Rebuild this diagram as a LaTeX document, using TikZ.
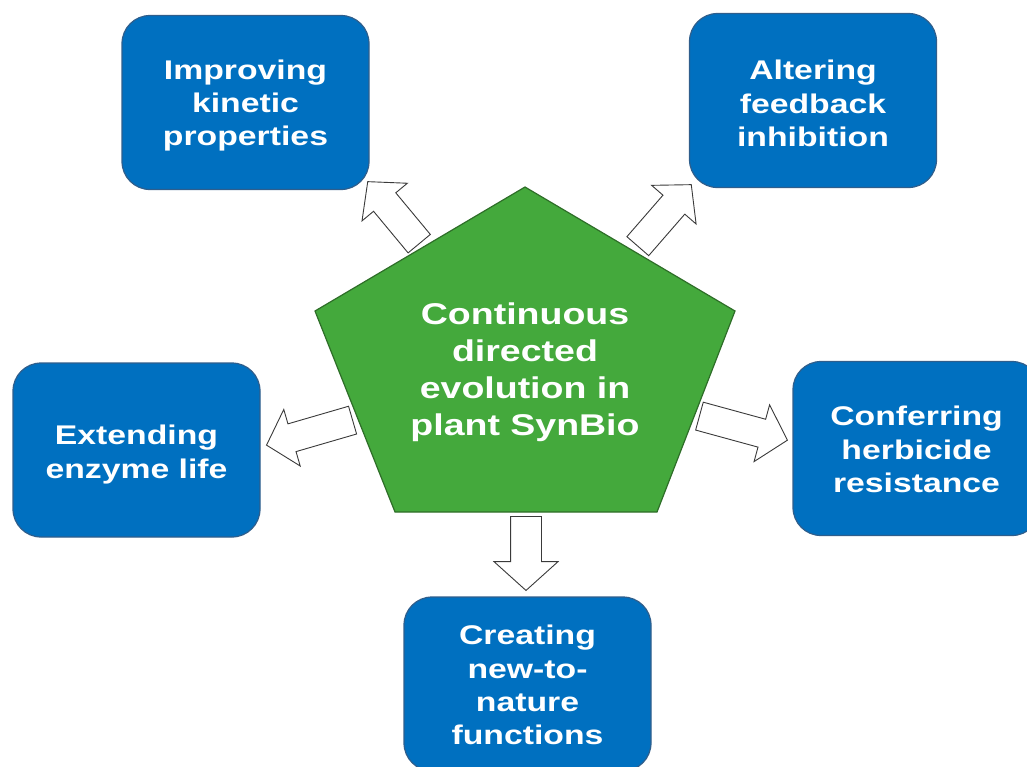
\documentclass[tikz,border=0pt]{standalone}
\usepackage{fontspec}
\setmainfont[FakeStretch=1.25]{Liberation Sans}
\usetikzlibrary{shapes.arrows}
\definecolor{boxblue}{HTML}{0070C0}
\definecolor{boxline}{HTML}{2F5E8C}
\definecolor{pentgreen}{HTML}{44A93C}
\definecolor{pentline}{HTML}{2E6E28}
\definecolor{arrowline}{HTML}{3A3A3A}
\tikzset{
  bluebox/.style={rectangle, rounded corners=28pt, minimum width=247pt, minimum height=174pt,
    fill=boxblue, draw=boxline, line width=1.2pt, inner sep=0pt},
  boxtext/.style={text=white, align=center, inner sep=0pt,
    font=\bfseries\fontsize{27}{33.3}\selectfont},
  centertext/.style={text=white, align=center, inner sep=0pt,
    font=\bfseries\fontsize{30}{37}\selectfont},
  blockarrow/.style={single arrow, draw=arrowline, fill=white, line width=0.9pt,
    inner xsep=0pt, inner ysep=14pt, single arrow head extend=15pt,
    single arrow tip angle=96, shape border uses incircle=false, anchor=tail}
}
\begin{document}
\begin{tikzpicture}[x=1pt,y=-1pt]
\useasboundingbox (0,0) rectangle (1027,766);
\clip (0,0) rectangle (1027,766);
% pentagon
\draw[fill=pentgreen, draw=pentline, line width=1.2pt]
  (525,187) -- (735,311) -- (657,512) -- (395,512) -- (315,311) -- cycle;
\node[centertext] (center) at (525,372) {Continuous\\directed\\evolution in\\plant SynBio};
% boxes
\node[bluebox] (kin) at (245.5,102.5) {};
\node[bluebox] (feed) at (813,100.5) {};
\node[bluebox] (life) at (136.5,450) {};
\node[bluebox] (herb) at (916.5,448.5) {};
\node[bluebox] (func) at (527.5,684) {};
\node[boxtext] (kint) at ([yshift=-3pt]kin.center) {Improving\\kinetic\\properties};
\node[boxtext] (feedt) at ([yshift=-3pt]feed.center) {Altering\\feedback\\inhibition};
\node[boxtext] (lifet) at ([yshift=-4.5pt]life.center) {Extending\\enzyme life};
\node[boxtext] (herbt) at ([yshift=-1pt]herb.center) {Conferring\\herbicide\\resistance};
\node[boxtext] (funct) at ([yshift=-1pt]func.center) {Creating\\new-to-\\nature\\functions};
% block arrows (tail points)
\coordinate (b1) at (419.5,244);
\coordinate (b2) at (637.5,246.5);
\coordinate (b3) at (353,420);
\coordinate (b4) at (699,416);
\coordinate (b5) at (526,516);
\node[blockarrow, minimum height=80.6pt, rotate=129.7] (a1) at (b1) {};
\node[blockarrow, minimum height=81.5pt, rotate=49.0] (a2) at (b2) {};
\node[blockarrow, minimum height=89.6pt, rotate=196.2] (a3) at (b3) {};
\node[blockarrow, minimum height=91.2pt, rotate=-15.3] (a4) at (b4) {};
\node[blockarrow, minimum height=74pt, rotate=-90, inner ysep=15pt, single arrow head extend=16.5pt] (a5) at (b5) {};
\end{tikzpicture}
\end{document}
